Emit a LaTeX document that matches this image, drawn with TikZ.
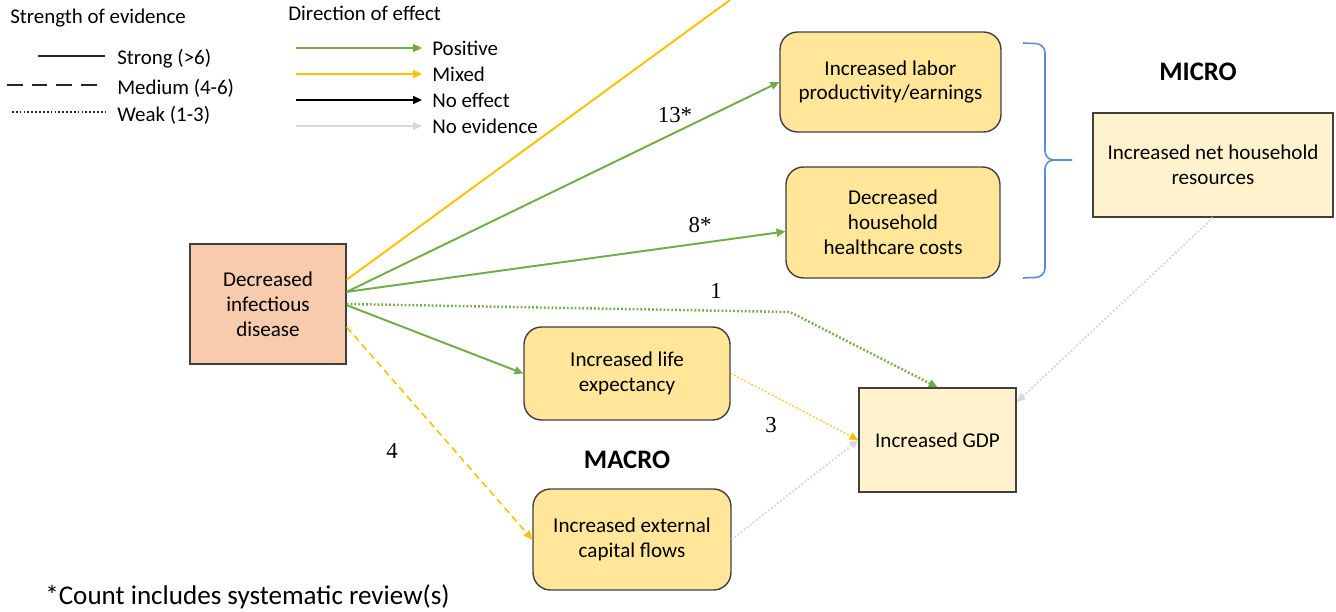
\documentclass[tikz,border=0pt]{standalone}
\usepackage{fontspec}
\setmainfont{Carlito}
\newfontfamily\numfont{Liberation Serif}
\usetikzlibrary{arrows.meta, calc}
\definecolor{posgreen}{HTML}{70AD47}
\definecolor{mixyellow}{HTML}{FFC000}
\definecolor{noevgray}{HTML}{D9D9D9}
\definecolor{srcfill}{HTML}{F8CBAD}
\definecolor{midfill}{HTML}{FFE699}
\definecolor{endfill}{HTML}{FFF2CC}
\definecolor{boxline}{HTML}{404040}
\definecolor{braceblue}{HTML}{5B8BD9}
\tikzset{
  box/.style = {draw=boxline, line width=0.8pt, align=center, inner sep=2pt, font=\fontsize{12}{14.2}\selectfont},
  roundbox/.style = {box, fill=midfill, rounded corners=0.35cm},
  outbox/.style = {box, fill=endfill},
  effect/.style = {-{Triangle[length=5pt, width=4.5pt]}, line width=1.1pt},
  weak/.style = {dash pattern=on 1pt off 1.2pt},
  medium/.style = {dash pattern=on 4pt off 2.5pt},
  longdash/.style = {dash pattern=on 9pt off 5pt},
  count/.style = {font=\numfont\fontsize{13}{15}\selectfont},
  legend/.style = {anchor=west, inner sep=0, font=\fontsize{11.9}{13}\selectfont},
  level/.style = {font=\bfseries\fontsize{15.2}{17}\selectfont}
}

\begin{document}
\begin{tikzpicture}[x=0.02cm, y=-0.02cm]
\useasboundingbox (0,0) rectangle (1336,612);

\node[legend] (strength) at (10,18) {Strength of evidence};
\foreach \y/\s/\x/\t [count=\i] in {56/solid/38/Strong (>6), 85/longdash/7/Medium (4-6), 112/weak/12/Weak (1-3)} {
  \node[legend] (str\i) at (117,\y+3) {\t};
  \coordinate (strs\i) at (\x,\y);
  \draw[\s, line width=1.2pt, black!85] (strs\i) -- (strs\i-|{$(str\i.west)+(-12,0)$});
}
\node[legend] (direction) at (288,13) {Direction of effect};
\foreach \y/\c/\t [count=\i] in {48/posgreen/Positive, 74/mixyellow/Mixed, 100/black/No effect, 126/noevgray/No evidence} {
  \node[legend] (dir\i) at (432,\y) {\t};
  \coordinate (dirs\i) at (296,\y);
  \draw[effect, line width=1pt, \c] (dirs\i) -- ([xshift=-0.2cm]dir\i.west);
}

\node[box, fill=srcfill, minimum width=3.12cm, minimum height=2.4cm] (src) at (268,304) {Decreased\\infectious\\disease};
\node[roundbox, minimum width=4.42cm, minimum height=2cm] (lab) at (890.5,82) {Increased labor\\productivity/earnings};
\node[roundbox, minimum width=4.28cm, minimum height=2.22cm] (hc) at (893,222.5) {Decreased\\household\\healthcare costs};
\node[roundbox, minimum width=4.12cm, minimum height=1.86cm] (life) at (627,373.5) {Increased life\\expectancy};
\node[roundbox, minimum width=3.96cm, minimum height=2.02cm] (cap) at (632,539.5) {Increased external\\capital flows};
\node[outbox, minimum width=3.14cm, minimum height=2.08cm] (gdp) at (937.5,440) {Increased GDP};
\node[outbox, minimum width=4.8cm, minimum height=2.08cm] (net) at (1213,165) {Increased net household\\resources};

\node[level] (micro) at (1198,72) {MICRO};
\node[level] (macro) at (627,460) {MACRO};

\draw[braceblue, line width=0.9pt, rounded corners=5pt] (1023,43) -- (1045,44) -- (1045,160) -- (1072,160);
\draw[braceblue, line width=0.9pt, rounded corners=5pt] (1072,160) -- (1045,160) -- (1045,277) -- (1023,278);

\coordinate (offtop) at (730,0);
\coordinate (bend) at (790,312);
\draw[mixyellow, line width=1.1pt] ($(src.north east)!0.3!(src.south east)$) -- (offtop);
\draw[effect, posgreen] ($(src.north east)!0.4!(src.south east)$) -- (lab.west);
\draw[effect, posgreen] ($(src.north east)!0.4!(src.south east)$) -- ($(hc.north west)!0.58!(hc.south west)$);
\draw[effect, posgreen, weak, line width=1.4pt] (src.east) -- (bend) -- (gdp.north);
\draw[effect, posgreen] ($(src.north east)!0.51!(src.south east)$) -- (life.west);
\draw[effect, mixyellow, medium, line width=0.9pt] ($(src.north east)!0.69!(src.south east)$) -- (cap.west);
\draw[effect, mixyellow, weak, line width=0.6pt] (life.east) -- (gdp.west);
\draw[effect, noevgray, weak, line width=1.2pt] (cap.east) -- (gdp.west);
\draw[effect, noevgray, weak, line width=1.2pt] (net.south) -- ($(gdp.north east)!0.14!(gdp.south east)$);

\node[count] (c13) at (675,115) {13*};
\node[count] (c8) at (700,225) {8*};
\node[count] (c1) at (716,291) {1};
\node[count] (c3) at (771,425) {3};
\node[count] (c4) at (392,451) {4};

\node[anchor=west, inner sep=0, font=\fontsize{15.4}{17}\selectfont] (note) at (45,597) {*Count includes systematic review(s)};
\end{tikzpicture}
\end{document}
